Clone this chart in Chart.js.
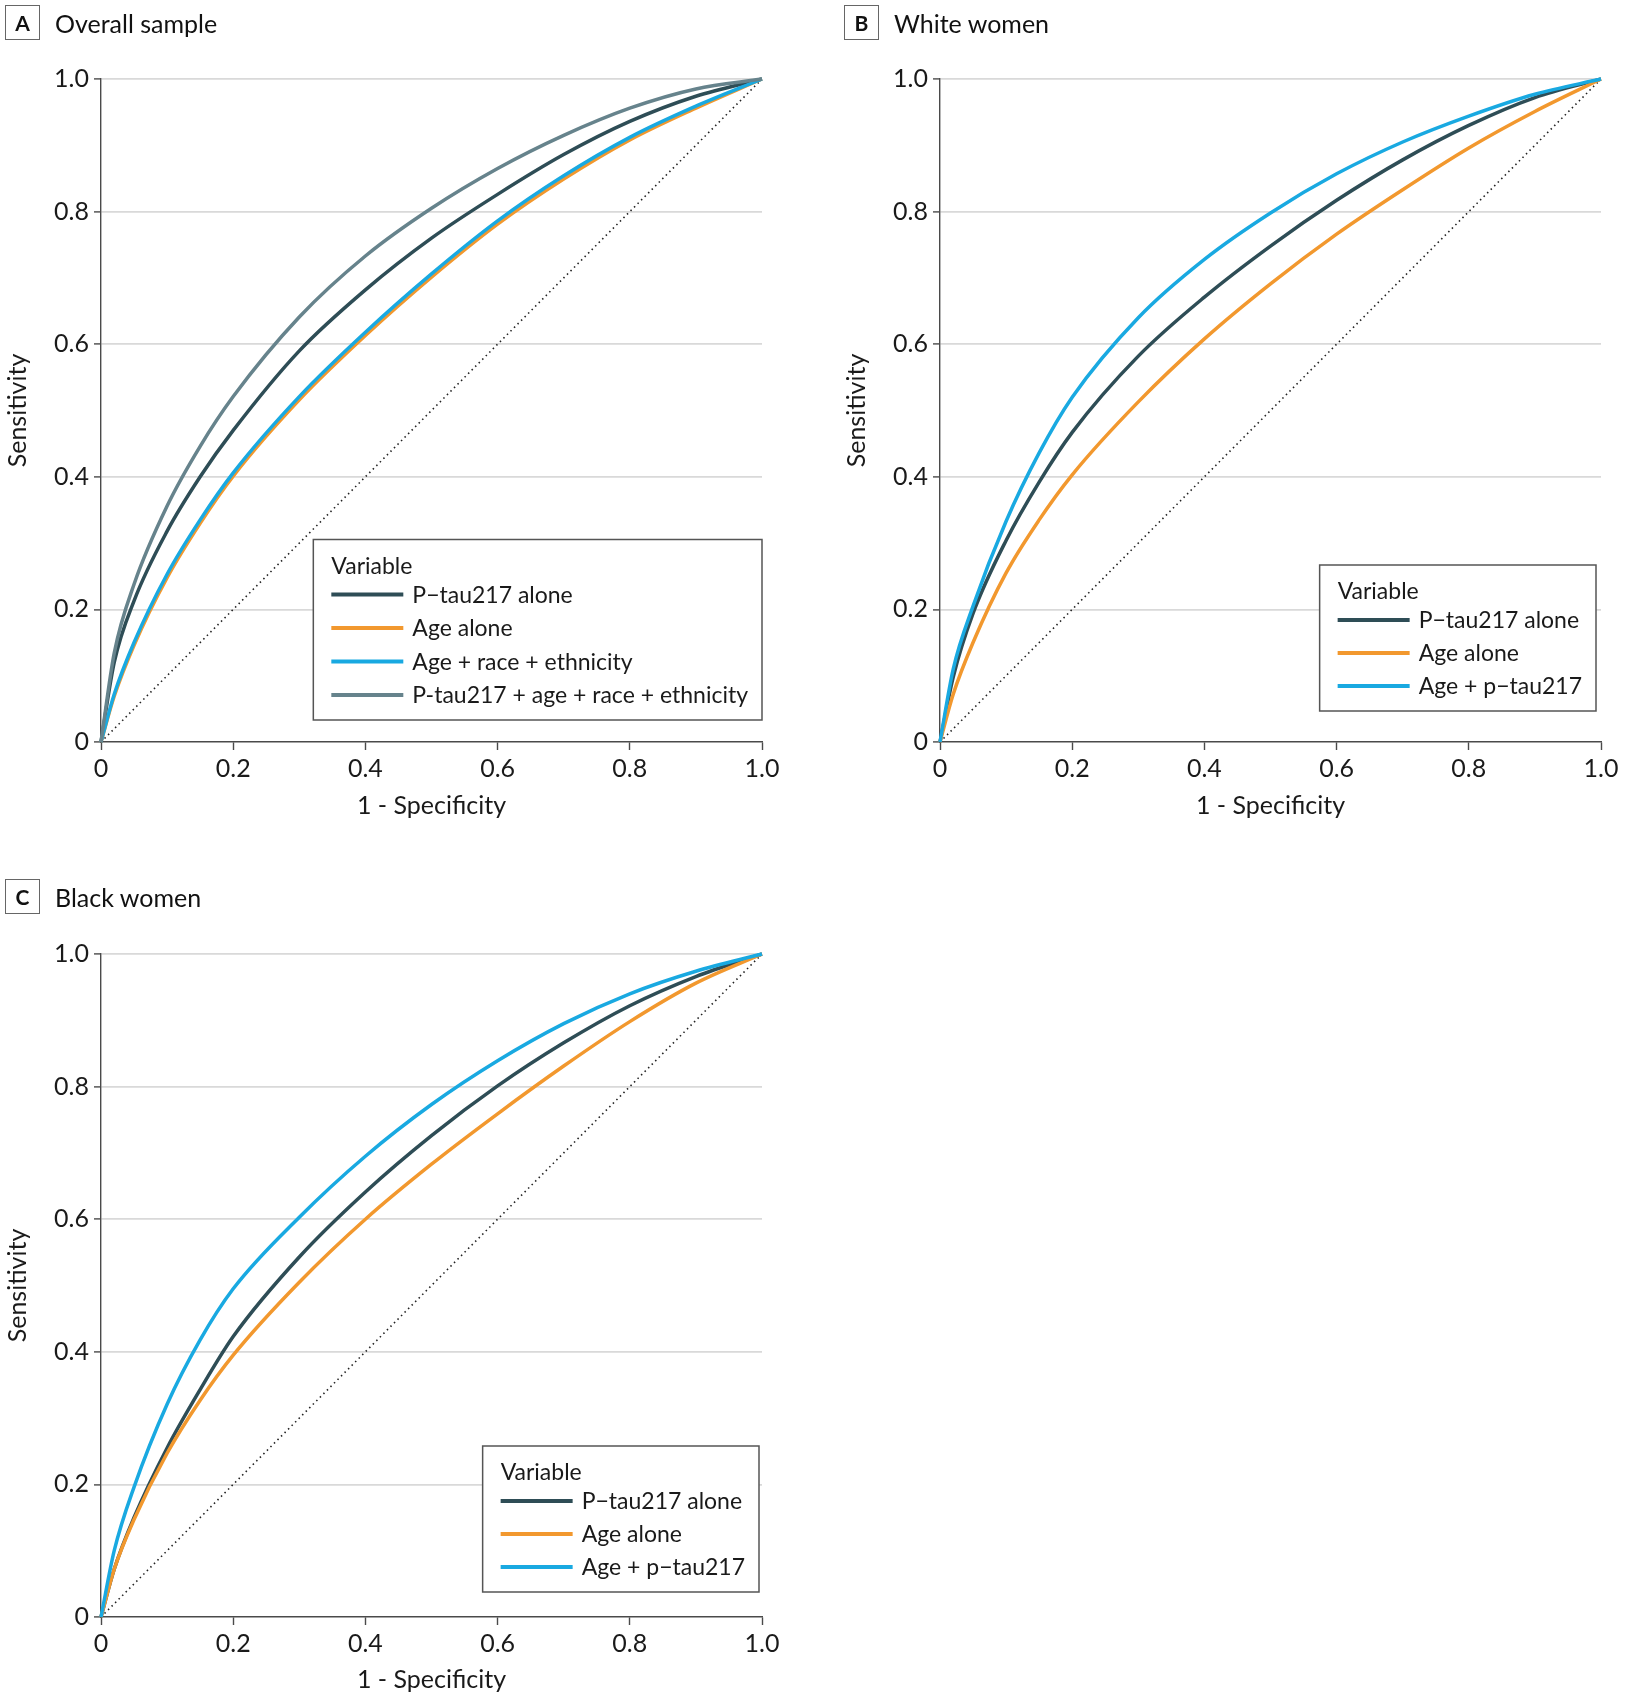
<!DOCTYPE html>
<html>
<head>
<meta charset="utf-8">
<script src="https://cdn.jsdelivr.net/npm/chart.js@4.4.1/dist/chart.umd.min.js"></script>
<style>
  body { margin: 0; background: #fff; }
  #wrap { position: relative; width: 1626px; height: 1703px; overflow: hidden; background: #fff; }
  canvas { position: absolute; }
  .head { position: absolute; display: flex; align-items: center; z-index: 2; font-family: Lato, 'Open Sans', sans-serif; color: #111; }
  .tag { width: 33px; height: 33px; border: 1.5px solid #666; display: flex; align-items: center; justify-content: center; font-weight: 700; font-size: 21px; }
  .ttl { margin-left: 15px; font-size: 25px; }
</style>
</head>
<body>
<div id="wrap">
  <div class="head" style="left:5px;top:5px"><span class="tag">A</span><span class="ttl">Overall sample</span></div>
  <div class="head" style="left:844px;top:5px"><span class="tag">B</span><span class="ttl">White women</span></div>
  <div class="head" style="left:5px;top:879px"><span class="tag">C</span><span class="ttl">Black women</span></div>
  <canvas id="chartA" width="810" height="840" style="left:0;top:0;width:810px;height:840px"></canvas>
  <canvas id="chartB" width="787" height="840" style="left:839px;top:0;width:787px;height:840px"></canvas>
  <canvas id="chartC" width="810" height="828" style="left:0;top:875px;width:810px;height:828px"></canvas>
</div>
<script>
// ROC curves: sensitivity at each 1 - specificity step
const FPR = [0, 0.02, 0.05, 0.1, 0.15, 0.2, 0.3, 0.4, 0.5, 0.6, 0.7, 0.8, 0.9, 1];

const A_PTAU     = [0, 0.12, 0.213, 0.318, 0.4, 0.47, 0.59, 0.682, 0.76, 0.826, 0.886, 0.936, 0.974, 1];
const A_AGE      = [0, 0.069, 0.146, 0.248, 0.33, 0.401, 0.516, 0.613, 0.701, 0.781, 0.849, 0.908, 0.956, 1];
const A_AGE_RACE = [0, 0.072, 0.15, 0.253, 0.335, 0.406, 0.521, 0.618, 0.706, 0.786, 0.854, 0.912, 0.959, 1];
const A_ALL      = [0, 0.134, 0.238, 0.356, 0.446, 0.521, 0.641, 0.733, 0.805, 0.865, 0.915, 0.956, 0.985, 1];

const B_PTAU  = [0, 0.098, 0.194, 0.304, 0.392, 0.467, 0.582, 0.671, 0.748, 0.817, 0.878, 0.93, 0.972, 1];
const B_AGE   = [0, 0.072, 0.15, 0.255, 0.335, 0.403, 0.513, 0.608, 0.691, 0.766, 0.833, 0.896, 0.951, 1];
const B_COMBO = [0, 0.11, 0.205, 0.333, 0.436, 0.52, 0.64, 0.728, 0.798, 0.857, 0.905, 0.944, 0.977, 1];

const C_PTAU  = [0, 0.072, 0.15, 0.255, 0.343, 0.423, 0.543, 0.641, 0.726, 0.801, 0.866, 0.922, 0.966, 1];
const C_AGE   = [0, 0.072, 0.147, 0.247, 0.327, 0.395, 0.505, 0.6, 0.683, 0.759, 0.831, 0.898, 0.956, 1];
const C_COMBO = [0, 0.1, 0.196, 0.321, 0.418, 0.495, 0.603, 0.695, 0.773, 0.839, 0.895, 0.94, 0.974, 1];

const TICKS = [0, 0.2, 0.4, 0.6, 0.8, 1];

const FONT = "Lato, 'Open Sans', sans-serif";
const DARK = '#2e4d56', ORANGE = '#f2982e', BLUE = '#19a9e1', SLATE = '#66838c';
const GRID = '#d9d9d9', AXIS = '#4a4a4a';

Chart.defaults.font.family = FONT;
Chart.defaults.color = '#1a1a1a';

/* Boxed "Variable" legend drawn inside the plot, anchored to the bottom-right corner. */
const boxLegend = {
  id: 'boxLegend',
  afterDraw(chart, args, o) {
    const { ctx, chartArea: a } = chart;
    const items = chart.data.datasets.filter((d) => !d.noLegend);
    ctx.save();
    ctx.font = `${o.size}px ${FONT}`;
    const textW = Math.max(...items.map((d) => ctx.measureText(d.label).width));
    const w = 18 + 72 + 9 + textW + 14;
    const h = 55 + (items.length - 1) * o.step + 25;
    const x = a.right - o.right - w, y = a.bottom - o.bottom - h;
    ctx.fillStyle = '#fff';
    ctx.fillRect(x, y, w, h);
    ctx.strokeStyle = '#555';
    ctx.lineWidth = 1.5;
    ctx.strokeRect(x, y, w, h);
    ctx.fillStyle = '#1a1a1a';
    ctx.textBaseline = 'middle';
    ctx.fillText('Variable', x + 18, y + 27);
    items.forEach((d, i) => {
      const ly = y + 55 + i * o.step;
      ctx.strokeStyle = d.borderColor;
      ctx.lineWidth = 4;
      ctx.beginPath();
      ctx.moveTo(x + 18, ly);
      ctx.lineTo(x + 90, ly);
      ctx.stroke();
      ctx.fillText(d.label, x + 99, ly + 1);
    });
    ctx.restore();
  }
};

const tickLabel = (v) => (v === 0 ? '0' : v.toFixed(1));

function panel(id, curves, leg, dims) {
  const datasets = curves.map((c, i) => ({
    label: c.label,
    data: FPR.map((x, j) => ({ x, y: c.tpr[j] })),
    borderColor: c.color, borderWidth: 3.5, pointRadius: 0,
    cubicInterpolationMode: 'monotone', fill: false, clip: 6,
    order: curves.length - i
  }));
  datasets.push({
    label: 'Chance', noLegend: true, data: [{ x: 0, y: 0 }, { x: 1, y: 1 }],
    borderColor: '#222', borderWidth: 1.6, borderDash: [1.5, 3.5], pointRadius: 0, order: 99
  });

  const ticks = { font: { size: 25 }, color: '#1a1a1a', callback: tickLabel, autoSkip: false };
  new Chart(document.getElementById(id), {
    type: 'line',
    data: { datasets },
    plugins: [boxLegend],
    options: {
      responsive: false, animation: false, events: [],
      layout: { padding: { left: 0, top: 79, right: dims.right, bottom: 0 } },
      plugins: { legend: { display: false }, tooltip: { enabled: false }, boxLegend: { size: 23, step: leg.step, right: leg.right, bottom: leg.bottom } },
      scales: {
        x: {
          type: 'linear', min: 0, max: 1,
          afterBuildTicks: (s) => { s.ticks = TICKS.map((v) => ({ value: v })); },
          afterFit: (s) => { s.height = dims.xh; },
          grid: { drawOnChartArea: false, tickLength: 8, tickColor: AXIS, tickWidth: 1.4 },
          border: { color: AXIS, width: 1.4 },
          ticks: { ...ticks, padding: 4, maxRotation: 0 },
          title: { display: true, text: '1 - Specificity', font: { size: 25 }, color: '#1a1a1a', padding: { top: 0, bottom: dims.titlePad } }
        },
        y: {
          type: 'linear', min: 0, max: 1,
          afterBuildTicks: (s) => { s.ticks = TICKS.map((v) => ({ value: v })); },
          afterFit: (s) => { s.width = 101; },
          grid: { color: (c) => (c.tick && c.tick.value === 0 ? 'rgba(0,0,0,0)' : GRID), lineWidth: 1.8, tickLength: 7, tickColor: AXIS, tickWidth: 1.4 },
          border: { color: AXIS, width: 1.4 },
          ticks: { ...ticks, padding: 5 },
          title: { display: true, text: 'Sensitivity', font: { size: 25 }, color: '#1a1a1a', padding: { top: 3, bottom: 0 } }
        }
      }
    }
  });
}

panel('chartA', [
  { label: 'P\u2212tau217 alone', tpr: A_PTAU, color: DARK },
  { label: 'Age alone', tpr: A_AGE, color: ORANGE },
  { label: 'Age + race + ethnicity', tpr: A_AGE_RACE, color: BLUE },
  { label: 'P-tau217 + age + race + ethnicity', tpr: A_ALL, color: SLATE }
], { step: 33.5, right: 0, bottom: 22 }, { right: 48, xh: 98, titlePad: 19 });

panel('chartB', [
  { label: 'P\u2212tau217 alone', tpr: B_PTAU, color: DARK },
  { label: 'Age alone', tpr: B_AGE, color: ORANGE },
  { label: 'Age + p\u2212tau217', tpr: B_COMBO, color: BLUE }
], { step: 33, right: 5, bottom: 31 }, { right: 25, xh: 98, titlePad: 19 });

panel('chartC', [
  { label: 'P\u2212tau217 alone', tpr: C_PTAU, color: DARK },
  { label: 'Age alone', tpr: C_AGE, color: ORANGE },
  { label: 'Age + p\u2212tau217', tpr: C_COMBO, color: BLUE }
], { step: 33, right: 3, bottom: 25 }, { right: 48, xh: 86, titlePad: 8 });
</script>
</body>
</html>
